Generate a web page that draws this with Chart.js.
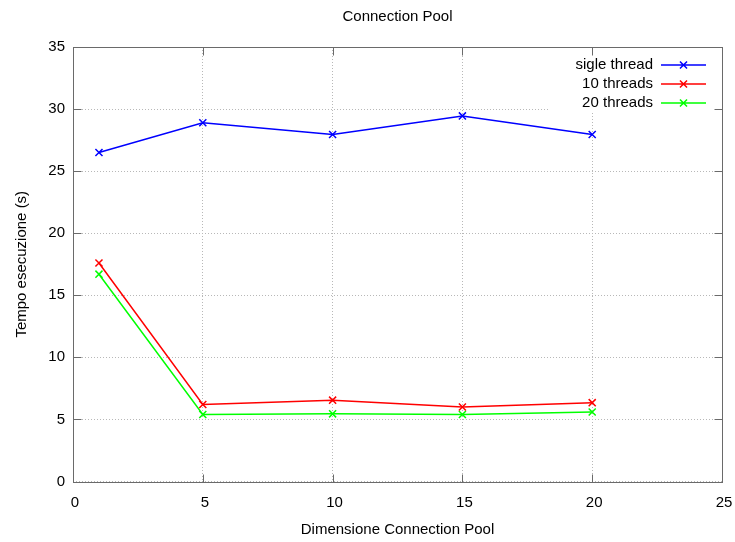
<!DOCTYPE html>
<html>
<head>
<meta charset="utf-8">
<script src="https://cdn.jsdelivr.net/npm/chart.js@4"></script>
<style>
html,body{margin:0;padding:0;background:#fff;}
#wrap{width:735px;height:542px;}
</style>
</head>
<body>
<div id="wrap"><canvas id="chart" width="735" height="542"></canvas></div>
<script>
// data
const poolSizes = [1, 5, 10, 15, 20];
const singleThread = [26.5, 28.9, 27.95, 29.45, 27.95];
const threads10 = [17.6, 6.2, 6.55, 6.0, 6.35];
const threads20 = [16.7, 5.4, 5.45, 5.4, 5.6];

const seriesLabels = ["sigle thread", "10 threads", "20 threads"];
const seriesColors = ["#0000ff", "#ff0000", "#00ff00"];
const chartTitle = "Connection Pool";

const FONT = "'Liberation Sans', Arial, sans-serif";

function toPoints(vals){
  return vals.map((v,i)=>({x:poolSizes[i], y:v}));
}

const allSeries = [singleThread, threads10, threads20];

const datasets = allSeries.map((s,i)=>({
  label: seriesLabels[i],
  data: toPoints(s),
  borderColor: seriesColors[i],
  backgroundColor: seriesColors[i],
  borderWidth: 1.5,
  pointStyle: "crossRot",
  pointRadius: 5,
  pointBorderWidth: 1.5,
  tension: 0,
  fill: false
}));

// gnuplot-ish frame: title over plot area, white key box, border, inward ticks, key
const frame = {
  id: "frame",
  beforeDatasetsDraw(chart){
    const ctx = chart.ctx;
    const a = chart.chartArea;
    ctx.save();
    ctx.fillStyle = "#fff";
    ctx.fillRect(549, a.top, a.right - 549, 113 - a.top);
    ctx.restore();
  },
  afterDatasetsDraw(chart){
    const ctx = chart.ctx;
    const a = chart.chartArea;
    const xs = chart.scales.x, ys = chart.scales.y;
    ctx.save();
    ctx.strokeStyle = "#6a6a6a";
    ctx.lineWidth = 1;
    const L = Math.round(a.left)+0.5, R = Math.round(a.right)+0.5;
    const T = Math.round(a.top)+0.5, B = Math.round(a.bottom)+0.5;
    ctx.strokeRect(L, T, R-L, B-T);
    ctx.beginPath();
    xs.ticks.forEach(t=>{
      const px = Math.round(xs.getPixelForValue(t.value))+0.5;
      ctx.moveTo(px, B); ctx.lineTo(px, B-8);
      ctx.moveTo(px, T); ctx.lineTo(px, T+8);
    });
    ys.ticks.forEach(t=>{
      const py = Math.round(ys.getPixelForValue(t.value))+0.5;
      ctx.moveTo(L, py); ctx.lineTo(L+8, py);
      ctx.moveTo(R, py); ctx.lineTo(R-8, py);
    });
    ctx.stroke();

    ctx.font = "15px " + FONT;
    ctx.fillStyle = "#000";
    ctx.textAlign = "center";
    ctx.textBaseline = "middle";
    ctx.fillText(chartTitle, (a.left + a.right)/2, 17);

    // key
    ctx.textAlign = "right";
    chart.data.datasets.forEach((d,i)=>{
      const y = 65 + i*19;
      ctx.fillStyle = "#000";
      ctx.fillText(d.label, 653, y);
      ctx.strokeStyle = d.borderColor;
      ctx.lineWidth = 1.5;
      ctx.beginPath();
      ctx.moveTo(661, y); ctx.lineTo(706, y);
      const cx = 683.5, r = 5*Math.SQRT1_2;
      ctx.moveTo(cx-r, y-r); ctx.lineTo(cx+r, y+r);
      ctx.moveTo(cx-r, y+r); ctx.lineTo(cx+r, y-r);
      ctx.stroke();
    });
    ctx.restore();
  }
};

new Chart(document.getElementById("chart"), {
  type: "line",
  data: { datasets: datasets },
  options: {
    responsive: false,
    animation: false,
    layout: { padding: { left: 0, right: 13, top: 47, bottom: 0 } },
    plugins: {
      legend: { display: false },
      tooltip: { enabled: false },
      title: { display: false }
    },
    scales: {
      x: {
        type: "linear",
        min: 0, max: 25,
        ticks: { stepSize: 5, color: "#000", padding: 12, labelOffset: 2,
          font: { family: FONT, size: 15 } },
        grid: { color: "#b8b8b8", lineWidth: 1, drawTicks: false },
        border: { display: false, dash: [1, 2] },
        title: { display: true, text: "Dimensione Connection Pool", color: "#000",
          font: { family: FONT, size: 15 }, padding: { top: 0, bottom: 3 } },
        afterFit(scale){
          scale.height = 60.5;
          scale.paddingLeft = 0;
          scale.paddingRight = 0;
        }
      },
      y: {
        min: 0, max: 35,
        ticks: { stepSize: 5, color: "#000", padding: 8,
          font: { family: FONT, size: 15 } },
        grid: { color: "#b8b8b8", lineWidth: 1, drawTicks: false },
        border: { display: false, dash: [1, 2] },
        title: { display: true, text: "Tempo esecuzione (s)", color: "#000",
          font: { family: FONT, size: 15 }, padding: { top: 13, bottom: 0 } },
        afterFit(scale){
          scale.width = 73;
          scale.paddingTop = 0;
          scale.paddingBottom = 0;
        }
      }
    }
  },
  plugins: [frame]
});
</script>
</body>
</html>
